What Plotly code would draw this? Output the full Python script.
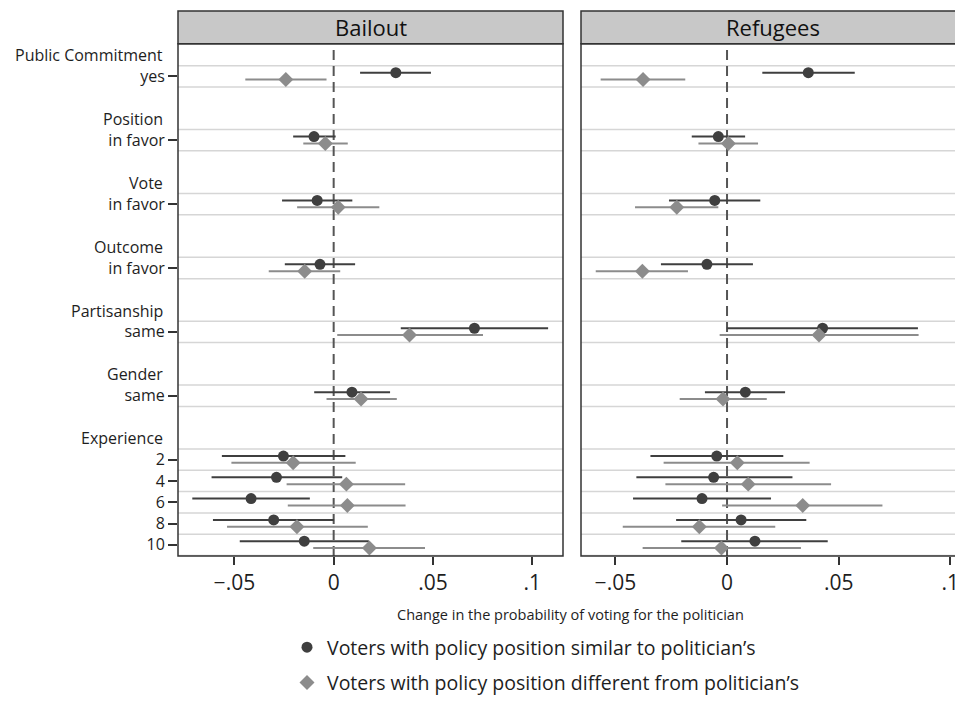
import plotly.graph_objects as go

# ---------------- data ----------------
groups = ["Public Commitment", "Position", "Vote", "Outcome", "Partisanship", "Gender", "Experience"]
group_items = [["yes"], ["in favor"], ["in favor"], ["in favor"], ["same"], ["same"], ["2", "4", "6", "8", "10"]]
panels = ["Bailout", "Refugees"]
series_names = ["Voters with policy position similar to politician\u2019s",
                "Voters with policy position different from politician\u2019s"]
x_tickvals = [-0.05, 0, 0.05, 0.1]
x_ticktext = ["\u2212.05", "0", ".05", ".1"]
x_title = "Change in the probability of voting for the politician"

bailout_similar = [0.0313, -0.0099, -0.0083, -0.0069, 0.0709, 0.0092, -0.0253, -0.0288, -0.0416, -0.0302, -0.0148]
bailout_similar_lo = [0.0133, -0.0204, -0.0260, -0.0246, 0.0338, -0.0098, -0.0563, -0.0615, -0.0712, -0.0608, -0.0473]
bailout_similar_hi = [0.0490, 0.0010, 0.0094, 0.0108, 0.1080, 0.0284, 0.0059, 0.0043, -0.0120, 0.0002, 0.0177]

bailout_different = [-0.0241, -0.0042, 0.0023, -0.0146, 0.0382, 0.0138, -0.0204, 0.0064, 0.0069, -0.0185, 0.0180]
bailout_different_lo = [-0.0445, -0.0153, -0.0184, -0.0327, 0.0018, -0.0036, -0.0515, -0.0237, -0.0231, -0.0537, -0.0103]
bailout_different_hi = [-0.0036, 0.0071, 0.0230, 0.0033, 0.0752, 0.0318, 0.0111, 0.0360, 0.0362, 0.0172, 0.0460]

refugees_similar = [0.0364, -0.0039, -0.0055, -0.0090, 0.0428, 0.0082, -0.0046, -0.0060, -0.0112, 0.0063, 0.0125]
refugees_similar_lo = [0.0158, -0.0158, -0.0260, -0.0296, -0.0001, -0.0099, -0.0343, -0.0406, -0.0421, -0.0228, -0.0205]
refugees_similar_hi = [0.0572, 0.0081, 0.0149, 0.0116, 0.0855, 0.0260, 0.0252, 0.0293, 0.0197, 0.0355, 0.0451]

refugees_different = [-0.0376, 0.0006, -0.0225, -0.0379, 0.0412, -0.0018, 0.0046, 0.0095, 0.0339, -0.0124, -0.0025]
refugees_different_lo = [-0.0566, -0.0128, -0.0412, -0.0588, -0.0033, -0.0212, -0.0284, -0.0276, -0.0022, -0.0467, -0.0378]
refugees_different_hi = [-0.0187, 0.0139, -0.0039, -0.0175, 0.0858, 0.0178, 0.0370, 0.0466, 0.0696, 0.0216, 0.0331]

# ---------------- layout helpers ----------------
W, H = 955, 702
FONT = "Open Sans"
DARK = "#3f3f3f"
GRAY = "#8c8c8c"
TXT = "#1e1e1e"

# compute row positions: from bottom, each group = items + heading + one gap row
positions, labels, heading_pos = [], [], []
pos = 0
for g, items in reversed(list(zip(groups, group_items))):
    ps = []
    for it in reversed(items):
        ps.append(pos)
        pos += 1
    ps = list(reversed(ps))
    heading_pos.append((g, pos))
    pos += 2
    positions = ps + positions
    labels = list(items) + labels
positions_all = positions

def px_x(p):
    return p / W

def px_y(p):
    return 1 - p / H

y_top_px, y_bot_px = 44, 559.3
left_dom = [px_x(178), px_x(563)]
right_dom = [px_x(581), 1.0]
y_dom = [px_y(y_bot_px), px_y(y_top_px)]
y_range = [-0.53, 23.53]

fig = go.Figure()

data = {
    "Bailout": [(bailout_similar, bailout_similar_lo, bailout_similar_hi),
                (bailout_different, bailout_different_lo, bailout_different_hi)],
    "Refugees": [(refugees_similar, refugees_similar_lo, refugees_similar_hi),
                 (refugees_different, refugees_different_lo, refugees_different_hi)],
}
offsets = [0.17, -0.15]
styles = [dict(symbol="circle", size=11, color=DARK, err=DARK),
          dict(symbol="diamond", size=11.5, color=GRAY, err=GRAY)]

for pi, panel in enumerate(panels):
    xa = "x" if pi == 0 else "x2"
    ya = "y" if pi == 0 else "y2"
    for si, (est, lo, hi) in enumerate(data[panel]):
        st = styles[si]
        fig.add_trace(go.Scatter(
            x=est,
            y=[p + offsets[si] for p in positions_all],
            mode="markers",
            marker=dict(symbol=st["symbol"], size=st["size"], color=st["color"], line=dict(width=0)),
            error_x=dict(type="data", symmetric=False,
                         array=[h - e for h, e in zip(hi, est)],
                         arrayminus=[e - l for e, l in zip(est, lo)],
                         width=0, thickness=2, color=st["err"]),
            name=series_names[si],
            legendgroup=f"g{si}",
            showlegend=(pi == 0),
            xaxis=xa, yaxis=ya,
        ))

axis_common = dict(showgrid=False, zeroline=False, showline=False, automargin=False)
xtick_font = dict(size=21, family=FONT, color=TXT)
fig.update_layout(
    width=W, height=H,
    margin=dict(l=0, r=0, t=0, b=0),
    paper_bgcolor="white", plot_bgcolor="white",
    font=dict(family=FONT, color=TXT),
    template="none",
    xaxis=dict(domain=left_dom, range=[-0.0784, 0.1155], tickvals=x_tickvals, ticktext=x_ticktext,
               ticks="outside", ticklen=8, tickwidth=1.5, tickcolor="#333333",
               tickfont=xtick_font, anchor="y", ticklabeloverflow="allow", **axis_common),
    xaxis2=dict(domain=right_dom, range=[-0.0654, 0.1021], tickvals=x_tickvals, ticktext=x_ticktext,
                ticks="outside", ticklen=8, tickwidth=1.5, tickcolor="#333333",
                tickfont=xtick_font, anchor="y2", ticklabeloverflow="allow", **axis_common),
    yaxis=dict(domain=y_dom, range=y_range, tickvals=positions_all, ticktext=labels,
               ticks="outside", ticklen=9, tickwidth=1.5, tickcolor="#333333",
               tickfont=dict(size=16, family=FONT, color=TXT), anchor="x", **axis_common),
    yaxis2=dict(domain=y_dom, range=y_range, showticklabels=False, ticks="", anchor="x2", **axis_common),
    legend=dict(x=px_x(287), y=px_y(632), xanchor="left", yanchor="top",
                font=dict(size=19.5, family=FONT, color=TXT),
                tracegroupgap=7, bgcolor="rgba(0,0,0,0)", traceorder="grouped"),
)

shapes = []
annotations = []
grid_lines = sorted(set([p + 0.5 for p in positions_all] + [p - 0.5 for p in positions_all]))
for pi, panel in enumerate(panels):
    xr = "x" if pi == 0 else "x2"
    yr = "y" if pi == 0 else "y2"
    dom = left_dom if pi == 0 else right_dom
    for g in grid_lines:
        shapes.append(dict(type="line", xref=f"{xr} domain", yref=yr, x0=0, x1=1, y0=g, y1=g,
                           line=dict(color="#d6d6d6", width=1.5), layer="below"))
    shapes.append(dict(type="line", xref=xr, yref=f"{yr} domain", x0=0, x1=0, y0=0, y1=1,
                       line=dict(color="#555555", width=2, dash="10px,6px"), layer="below"))
    # frame
    x1 = dom[1] if pi == 0 else 1.05
    shapes.append(dict(type="rect", xref="paper", yref="paper", x0=dom[0], x1=x1,
                       y0=y_dom[0], y1=y_dom[1], line=dict(color="#333333", width=1.5),
                       fillcolor="rgba(0,0,0,0)", layer="above"))
    # header
    shapes.append(dict(type="rect", xref="paper", yref="paper", x0=dom[0], x1=x1,
                       y0=y_dom[1], y1=px_y(11), line=dict(color="#333333", width=1.5),
                       fillcolor="#c8c8c8", layer="above"))
    cx = (178 + 563) / 2 if pi == 0 else 773
    annotations.append(dict(text=panel, xref="paper", yref="paper", x=px_x(cx), y=px_y(27.5),
                            xanchor="center", yanchor="middle", showarrow=False,
                            font=dict(size=22, family=FONT, color="#111111")))

for g, p in heading_pos:
    annotations.append(dict(text=g, xref="paper", yref="y", x=px_x(165), y=p,
                            xanchor="right", yanchor="middle", showarrow=False,
                            font=dict(size=16, family=FONT, color=TXT)))

annotations.append(dict(text=x_title, xref="paper", yref="paper", x=px_x(570), y=px_y(618),
                        xanchor="center", yanchor="middle", showarrow=False,
                        font=dict(size=14.5, family=FONT, color=TXT)))

fig.update_layout(shapes=shapes, annotations=annotations)
fig.write_html("out.html", config={"displayModeBar": False},
               post_script="document.body.style.margin='0';document.body.style.padding='0';document.documentElement.style.overflow='hidden';")
